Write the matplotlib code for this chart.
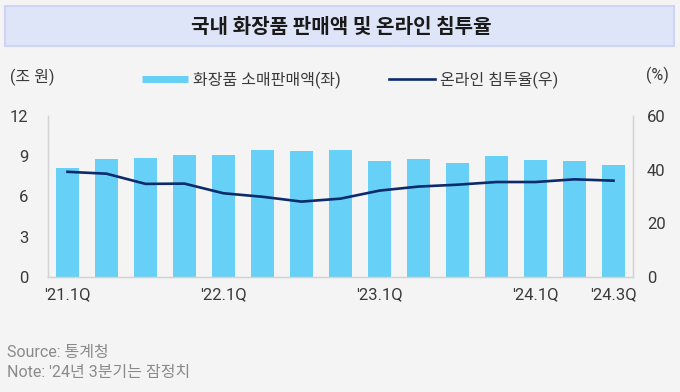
import matplotlib
matplotlib.use("Agg")
import matplotlib.pyplot as plt
from matplotlib.lines import Line2D
from matplotlib.patches import FancyBboxPatch
import numpy as np

plt.rcParams['font.family'] = ['Roboto', 'Noto Sans CJK KR', 'DejaVu Sans']

# data
quarters = ["'21.1Q", "'21.2Q", "'21.3Q", "'21.4Q",
            "'22.1Q", "'22.2Q", "'22.3Q", "'22.4Q",
            "'23.1Q", "'23.2Q", "'23.3Q", "'23.4Q",
            "'24.1Q", "'24.2Q", "'24.3Q"]
sales = [8.15, 8.8, 8.9, 9.08, 9.08, 9.43, 9.38, 9.48,
         8.68, 8.83, 8.5, 9.03, 8.75, 8.66, 8.36]      # 조 원
online_share = [39.2, 38.5, 34.7, 34.8, 31.2, 29.9, 28.1, 29.2,
                32.2, 33.7, 34.4, 35.4, 35.4, 36.4, 35.9]  # %
shown_ticks = ["'21.1Q", "'22.1Q", "'23.1Q", "'24.1Q", "'24.3Q"]

bar_color = '#67D0F6'
line_color = '#0B2B6C'
bg = '#F4F4F4'
spine_c = '#D3D3D3'
txt = '#3A3A3A'

fig = plt.figure(figsize=(6.8, 3.92), dpi=100, facecolor=bg)
ax = fig.add_axes([48/680, 1-277/392, (633-48)/680, (277-116)/392])
ax.set_facecolor('none')
x = np.arange(len(quarters))
ax.bar(x, sales, width=0.59, color=bar_color, zorder=2)
ax.set_xlim(-0.5, len(quarters)-0.5)
ax.set_ylim(0, 12)
ax.set_yticks([0, 3, 6, 9, 12])
ax.tick_params(axis='y', length=0, pad=14, labelsize=12, labelcolor=txt)
tick_pos = [quarters.index(q) for q in shown_ticks]
ax.set_xticks(tick_pos)
ax.set_xticklabels(shown_ticks)
ax.tick_params(axis='x', length=0, pad=7, labelsize=12, labelcolor=txt)
ax.spines['top'].set_visible(False)
for s in ['left', 'right', 'bottom']:
    ax.spines[s].set_color(spine_c)
    ax.spines[s].set_linewidth(1)

ax2 = ax.twinx()
ax2.plot(x, online_share, color=line_color, lw=1.9, zorder=3)
ax2.set_ylim(0, 60)
ax2.set_yticks([0, 20, 40, 60])
ax2.tick_params(axis='y', length=0, pad=10, labelsize=12, labelcolor=txt)
ax2.spines['top'].set_visible(False)
for s in ['left', 'right', 'bottom']:
    ax2.spines[s].set_color(spine_c)

# units
fig.text(10/680, 1-77/392, '(조 원)', fontsize=11.5, color=txt, va='center', ha='left')
fig.text(669/680, 1-75/392, '(%)', fontsize=11.5, color=txt, va='center', ha='right')

# legend
handles = [Line2D([], [], color=bar_color, lw=5, solid_capstyle='butt'),
           Line2D([], [], color=line_color, lw=1.9)]
fig.legend(handles, ['화장품 소매판매액(좌)', '온라인 침투율(우)'],
           loc='center', bbox_to_anchor=(350/680, 1-80/392), ncol=2,
           frameon=False, fontsize=11.5, handlelength=2.9, handletextpad=0.3,
           columnspacing=3.0, labelcolor=txt)

# title box
box = FancyBboxPatch((5/680, 1-46/392), 669/680, 40/392,
                     boxstyle='square,pad=0', transform=fig.transFigure,
                     facecolor='#DFE5F8', edgecolor='#CDD5F3', lw=1.5)
fig.patches.append(box)
fig.text(341/680, 1-26/392, '국내 화장품 판매액 및 온라인 침투율',
         fontsize=14.5, fontweight='bold', color='#1A1A1A',
         ha='center', va='center', family=['Noto Sans CJK KR'])

# footer
fig.text(7/680, 1-353/392, 'Source: 통계청', fontsize=11.5, color='#8A8A8A',
         ha='left', va='center')
fig.text(7/680, 1-373/392, "Note: '24년 3분기는 잠정치", fontsize=11.5,
         color='#8A8A8A', ha='left', va='center')

fig.savefig('out.png', dpi=100, facecolor=bg)
